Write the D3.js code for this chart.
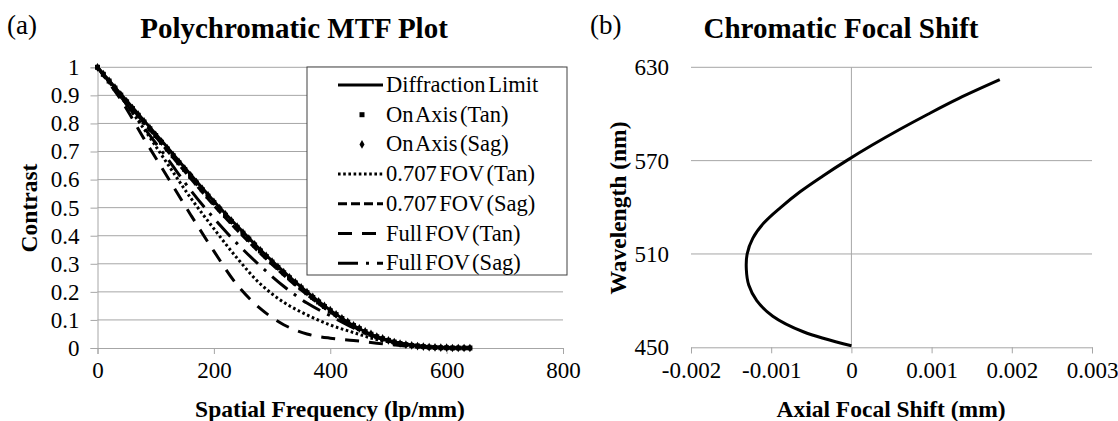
<!DOCTYPE html>
<html>
<head>
<meta charset="utf-8">
<script src="https://cdn.jsdelivr.net/npm/d3@7"></script>
<style>
  body { margin: 0; background: #fff; }
  svg { display: block; font-family: "Liberation Serif", "Times New Roman", serif; }
</style>
</head>
<body>
<svg id="viz" width="1118" height="421"></svg>
<script>
// (a) MTF data
let freq = [0, 40, 80, 120, 160, 200, 240, 280, 320, 360, 400, 440, 480, 520, 560, 600, 640];
let diffraction = [1, 0.905, 0.81, 0.715, 0.618, 0.523, 0.435, 0.35, 0.272, 0.2, 0.135, 0.08, 0.04, 0.017, 0.006, 0.001, 0];
let fov707Tan = [1, 0.895, 0.78, 0.657, 0.535, 0.425, 0.32, 0.228, 0.163, 0.118, 0.082, 0.055, 0.03, 0.016, 0.006, 0.001, 0];
let fov707Sag = [1, 0.902, 0.802, 0.703, 0.604, 0.508, 0.42, 0.337, 0.26, 0.19, 0.128, 0.076, 0.038, 0.016, 0.005, 0.001, 0];
let fullTan = [1, 0.885, 0.745, 0.61, 0.475, 0.345, 0.225, 0.14, 0.083, 0.05, 0.035, 0.027, 0.017, 0.009, 0.003, 0, 0];
let fullSag = [1, 0.895, 0.785, 0.675, 0.562, 0.462, 0.372, 0.292, 0.22, 0.16, 0.115, 0.072, 0.038, 0.016, 0.005, 0.001, 0];

// on-axis series are plotted as markers only, denser sampling
let freqFine = [0, 10, 20, 30, 40, 50, 60, 70, 80, 90, 100, 110, 120, 130, 140, 150, 160, 170, 180, 190, 200,
  210, 220, 230, 240, 250, 260, 270, 280, 290, 300, 310, 320, 330, 340, 350, 360, 370, 380, 390, 400,
  410, 420, 430, 440, 450, 460, 470, 480, 490, 500, 510, 520, 530, 540, 550, 560, 570, 580, 590, 600,
  610, 620, 630, 640];
let onAxisTan = [1, 0.975, 0.951, 0.926, 0.901, 0.877, 0.853, 0.829, 0.805, 0.781, 0.757, 0.733, 0.709, 0.685, 0.66, 0.636, 0.612, 0.588, 0.564, 0.541, 0.518,
  0.495, 0.473, 0.451, 0.43, 0.409, 0.388, 0.367, 0.346, 0.326, 0.306, 0.287, 0.268, 0.25, 0.232, 0.214, 0.197, 0.18, 0.164, 0.148, 0.133,
  0.119, 0.105, 0.092, 0.08, 0.069, 0.058, 0.049, 0.04, 0.033, 0.027, 0.021, 0.016, 0.012, 0.009, 0.007, 0.005, 0.003, 0.002, 0.001, 0.001,
  0, 0, 0, 0];
let onAxisSag = [1, 0.976, 0.952, 0.928, 0.903, 0.879, 0.855, 0.831, 0.807, 0.783, 0.759, 0.735, 0.711, 0.687, 0.663, 0.639, 0.615, 0.591, 0.567, 0.544, 0.521,
  0.498, 0.476, 0.454, 0.432, 0.411, 0.39, 0.369, 0.348, 0.328, 0.308, 0.289, 0.27, 0.252, 0.234, 0.216, 0.199, 0.182, 0.166, 0.15, 0.135,
  0.12, 0.106, 0.093, 0.081, 0.07, 0.059, 0.05, 0.041, 0.034, 0.027, 0.021, 0.016, 0.012, 0.009, 0.007, 0.005, 0.003, 0.002, 0.001, 0.001,
  0, 0, 0, 0];

let mtfTicksX = [0, 200, 400, 600, 800];
let mtfTicksY = [0, 0.1, 0.2, 0.3, 0.4, 0.5, 0.6, 0.7, 0.8, 0.9, 1];

// (b) chromatic focal shift
let wavelength = [451, 460, 470, 480, 490, 500, 510, 520, 530, 540, 550, 560, 570, 580, 590, 600, 610, 622];
let focalShift = [0, -0.0006, -0.00098, -0.00118, -0.00128, -0.00131, -0.0013, -0.00123, -0.00109, -0.00088, -0.00064, -0.00036, -0.00006, 0.00026, 0.0006, 0.00096, 0.00134, 0.00185];
let shiftTicks = [-0.002, -0.001, 0, 0.001, 0.002, 0.003];
let wlTicks = [450, 510, 570, 630];

let svg = d3.select("#viz");
let grid = "#a6a6a6";
let serif = "'Liberation Serif', 'Times New Roman', serif";

// tick labels: Times-like, not d3's default sans
function styleAxis(a) {
  a.attr("font-family", serif).attr("font-size", 23);
  a.selectAll(".tick text").attr("font-family", serif).attr("font-size", 23).attr("fill", "#000");
  a.select(".domain").attr("stroke", grid);
  a.selectAll(".tick line").attr("stroke", grid);
}

// ---------- (a) ----------
let x1 = d3.scaleLinear().domain([0, 800]).range([97.5, 563]);
let y1 = d3.scaleLinear().domain([0, 1]).range([348, 67.3]);

// gridlines
svg.append("g")
  .selectAll("line")
  .data(mtfTicksY.filter(d => d > 0))
  .enter()
  .append("line")
  .attr("x1", x1(0)).attr("x2", x1(800))
  .attr("y1", d => y1(d)).attr("y2", d => y1(d))
  .attr("stroke", grid).attr("stroke-width", 1);

let yAx1 = svg.append("g")
  .attr("transform", `translate(${x1(0)},0)`)
  .call(d3.axisLeft(y1).tickValues(mtfTicksY).tickSize(7).tickPadding(11).tickFormat(d3.format("")));
let xAx1 = svg.append("g")
  .attr("transform", `translate(0,${y1(0)})`)
  .call(d3.axisBottom(x1).tickValues(mtfTicksX).tickSize(6).tickPadding(8).tickFormat(d3.format("")));
styleAxis(yAx1);
styleAxis(xAx1);

let seriesA = [
  { name: "Diffraction Limit", vals: diffraction, dash: null },
  { name: "0.707 FOV (Tan)", vals: fov707Tan, dash: "2.6,2.6" },
  { name: "0.707 FOV (Sag)", vals: fov707Sag, dash: "9,4" },
  { name: "Full FOV (Tan)", vals: fullTan, dash: "14,10" },
  { name: "Full FOV (Sag)", vals: fullSag, dash: "20,8,3,8" }
];

let lineA = d3.line().x(d => x1(d[0])).y(d => y1(d[1])).curve(d3.curveCatmullRom);

seriesA.forEach(s => {
  svg.append("path")
    .datum(freq.map((f, i) => [f, s.vals[i]]))
    .attr("d", lineA)
    .attr("fill", "none")
    .attr("stroke", "#000")
    .attr("stroke-width", 3)
    .attr("stroke-dasharray", s.dash);
});

// on-axis markers
svg.append("g")
  .selectAll("rect")
  .data(freqFine.map((f, i) => [f, onAxisTan[i]]))
  .enter()
  .append("rect")
  .attr("x", d => x1(d[0]) - 2.5).attr("y", d => y1(d[1]) - 2.5)
  .attr("width", 5).attr("height", 5)
  .attr("fill", "#000");

let diamond = d3.symbol().type(d3.symbolDiamond).size(22);
svg.append("g")
  .selectAll("path")
  .data(freqFine.map((f, i) => [f, onAxisSag[i]]))
  .enter()
  .append("path")
  .attr("d", diamond)
  .attr("transform", d => `translate(${x1(d[0])},${y1(d[1])})`)
  .attr("fill", "#000");

// legend
let legendItems = [
  { name: "Diffraction Limit", kind: "line", dash: null },
  { name: "On Axis (Tan)", kind: "square" },
  { name: "On Axis (Sag)", kind: "diamond" },
  { name: "0.707 FOV (Tan)", kind: "line", dash: "2.6,2.6" },
  { name: "0.707 FOV (Sag)", kind: "line", dash: "9,4" },
  { name: "Full FOV (Tan)", kind: "line", dash: "14,10" },
  { name: "Full FOV (Sag)", kind: "line", dash: "20,8,3,8" }
];
let lg = svg.append("g");
lg.append("rect")
  .attr("x", 307).attr("y", 67).attr("width", 260).attr("height", 208)
  .attr("fill", "#fff").attr("stroke", "#404040").attr("stroke-width", 1);
legendItems.forEach((it, i) => {
  let yy = 85 + i * 29.7;
  if (it.kind == "line") {
    lg.append("line")
      .attr("x1", 338).attr("x2", 383).attr("y1", yy).attr("y2", yy)
      .attr("stroke", "#000").attr("stroke-width", 3)
      .attr("stroke-dasharray", it.dash);
  } else if (it.kind == "square") {
    lg.append("rect").attr("x", 359.5).attr("y", yy - 2.5).attr("width", 5).attr("height", 5).attr("fill", "#000");
  } else {
    lg.append("path").attr("d", diamond).attr("transform", `translate(362,${yy})`).attr("fill", "#000");
  }
  lg.append("text")
    .attr("x", 386).attr("y", yy + 7)
    .attr("font-size", 22.5)
    .attr("word-spacing", -3)
    .text(it.name);
});

svg.append("text").attr("x", 7).attr("y", 34).attr("font-size", 27).text("(a)");
svg.append("text").attr("x", 294).attr("y", 38).attr("text-anchor", "middle")
  .attr("font-size", 29).attr("font-weight", "bold").text("Polychromatic MTF Plot");
svg.append("text").attr("x", 330).attr("y", 417).attr("text-anchor", "middle")
  .attr("font-size", 23.5).attr("font-weight", "bold").text("Spatial Frequency (lp/mm)");
svg.append("text").attr("transform", "translate(37,208) rotate(-90)").attr("text-anchor", "middle")
  .attr("font-size", 23.5).attr("font-weight", "bold").text("Contrast");

// ---------- (b) ----------
let x2 = d3.scaleLinear().domain([-0.002, 0.003]).range([691, 1092]);
let y2 = d3.scaleLinear().domain([450, 630]).range([347.3, 67.3]);

svg.append("g")
  .selectAll("line")
  .data(wlTicks.filter(d => d > 450))
  .enter()
  .append("line")
  .attr("x1", x2(-0.002)).attr("x2", x2(0.003))
  .attr("y1", d => y2(d)).attr("y2", d => y2(d))
  .attr("stroke", grid).attr("stroke-width", 1);

// vertical axis line sits at x = 0
svg.append("line")
  .attr("x1", x2(0)).attr("x2", x2(0)).attr("y1", y2(450)).attr("y2", y2(630))
  .attr("stroke", grid);

let yAx2 = svg.append("g")
  .attr("transform", `translate(${x2(-0.002)},0)`)
  .call(d3.axisLeft(y2).tickValues(wlTicks).tickSize(0).tickPadding(22));
styleAxis(yAx2);
yAx2.select(".domain").remove();

let xAx2 = svg.append("g")
  .attr("transform", `translate(0,${y2(450)})`)
  .call(d3.axisBottom(x2).tickValues(shiftTicks).tickSize(6).tickPadding(8).tickFormat(d3.format("")));
styleAxis(xAx2);
xAx2.selectAll(".tick text").text(d => d < 0 ? "-" + Math.abs(d) : String(d));

let lineB = d3.line().x(d => x2(d[1])).y(d => y2(d[0])).curve(d3.curveCatmullRom);
svg.append("path")
  .datum(wavelength.map((w, i) => [w, focalShift[i]]))
  .attr("d", lineB)
  .attr("fill", "none")
  .attr("stroke", "#000")
  .attr("stroke-width", 3);

svg.append("text").attr("x", 590).attr("y", 34).attr("font-size", 27).text("(b)");
svg.append("text").attr("x", 841).attr("y", 38).attr("text-anchor", "middle")
  .attr("font-size", 29).attr("font-weight", "bold").text("Chromatic Focal Shift");
svg.append("text").attr("x", 891).attr("y", 417).attr("text-anchor", "middle")
  .attr("font-size", 23.5).attr("font-weight", "bold").text("Axial Focal Shift (mm)");
svg.append("text").attr("transform", "translate(626,208) rotate(-90)").attr("text-anchor", "middle")
  .attr("font-size", 23.5).attr("font-weight", "bold").text("Wavelength (nm)");
</script>
</body>
</html>
